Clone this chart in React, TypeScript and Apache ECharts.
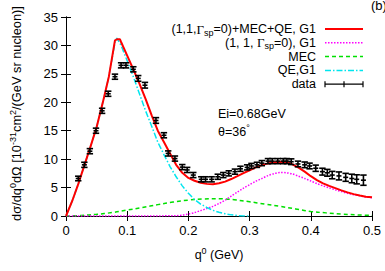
import React, { useEffect, useRef } from "react";
import * as echarts from "echarts";

// ---- data ----
const dataQ = [0.020, 0.030, 0.039, 0.049, 0.059, 0.069, 0.080, 0.090, 0.098, 0.110, 0.118, 0.129, 0.147, 0.160, 0.167, 0.178, 0.190, 0.198, 0.208, 0.221, 0.228, 0.238, 0.248, 0.257, 0.266, 0.276, 0.285, 0.296, 0.303, 0.312, 0.320, 0.330, 0.337, 0.346, 0.355, 0.361, 0.368, 0.379, 0.390, 0.398, 0.408, 0.419, 0.427, 0.435, 0.446, 0.457, 0.467, 0.475, 0.486];
const dataV = [6.6, 9.0, 11.4, 15.0, 18.5, 21.5, 24.5, 26.5, 26.5, 25.8, 24.2, 23.0, 16.8, 14.2, 11.0, 10.1, 8.6, 8.1, 7.2, 6.45, 6.45, 6.45, 6.9, 7.2, 7.5, 7.8, 8.3, 8.55, 8.8, 9.0, 9.3, 9.65, 9.65, 9.65, 9.65, 9.65, 9.55, 9.15, 9.0, 8.8, 8.4, 7.8, 7.6, 7.2, 7.05, 6.8, 6.6, 6.45, 6.3];
const dataErr = [0.4, 0.45, 0.45, 0.45, 0.45, 0.45, 0.45, 0.45, 0.45, 0.45, 0.5, 0.5, 0.5, 0.45, 0.45, 0.45, 0.45, 0.45, 0.45, 0.45, 0.45, 0.45, 0.45, 0.45, 0.45, 0.45, 0.45, 0.45, 0.45, 0.45, 0.45, 0.45, 0.45, 0.45, 0.45, 0.45, 0.5, 0.5, 0.5, 0.5, 0.55, 0.6, 0.6, 0.65, 0.7, 0.7, 0.75, 0.8, 0.9];

const totalQ = [0, 0.01, 0.02, 0.03, 0.04, 0.05, 0.06, 0.07, 0.08, 0.084, 0.088, 0.09, 0.1, 0.11, 0.12, 0.13, 0.14, 0.15, 0.16, 0.17, 0.18, 0.19, 0.2, 0.21, 0.22, 0.23, 0.24, 0.25, 0.26, 0.27, 0.28, 0.29, 0.3, 0.31, 0.32, 0.33, 0.34, 0.35, 0.36, 0.37, 0.38, 0.39, 0.4, 0.41, 0.42, 0.43, 0.44, 0.45, 0.46, 0.47, 0.48, 0.49, 0.5];
const totalV = [0, 2.6, 5.6, 8.9, 12.2, 15.6, 19.9, 24.5, 30.9, 31.1, 31.1, 30.6, 28.2, 25.8, 23.3, 20.6, 17.7, 15.0, 13.0, 11.0, 9.0, 7.6, 6.7, 6.2, 5.85, 5.65, 5.6, 5.75, 6.05, 6.5, 7.0, 7.55, 8.05, 8.55, 8.95, 9.25, 9.45, 9.55, 9.45, 9.1, 8.5, 7.8, 7.0, 6.3, 5.75, 5.3, 4.9, 4.5, 4.15, 3.85, 3.6, 3.4, 3.28];

const qeQ = [0, 0.01, 0.02, 0.03, 0.04, 0.05, 0.06, 0.07, 0.08, 0.083, 0.09, 0.1, 0.11, 0.12, 0.13, 0.14, 0.15, 0.16, 0.17, 0.18, 0.19, 0.2, 0.21, 0.22, 0.23, 0.24, 0.25, 0.26, 0.27, 0.28, 0.29, 0.3];
const qeV = [0, 2.6, 5.6, 8.9, 12.2, 15.6, 19.9, 24.5, 30.5, 31.3, 30.0, 27.3, 24.5, 21.5, 18.5, 15.8, 13.0, 10.8, 8.7, 6.9, 5.3, 4.0, 2.9, 2.1, 1.5, 1.0, 0.65, 0.4, 0.2, 0.08, 0.02, 0];

const mecQ = [0, 0.025, 0.05, 0.075, 0.1, 0.125, 0.15, 0.175, 0.2, 0.225, 0.25, 0.275, 0.3, 0.325, 0.35, 0.375, 0.4, 0.425, 0.45, 0.475, 0.5];
const mecV = [0, 0.1, 0.3, 0.6, 1.05, 1.5, 2.0, 2.45, 2.8, 3.0, 3.05, 2.85, 2.5, 2.1, 1.7, 1.25, 0.8, 0.55, 0.35, 0.2, 0.1];

const resQ = [0, 0.1, 0.18, 0.19, 0.2, 0.21, 0.22, 0.23, 0.24, 0.25, 0.26, 0.27, 0.28, 0.29, 0.3, 0.31, 0.32, 0.33, 0.34, 0.35, 0.36, 0.37, 0.38, 0.39, 0.4, 0.41, 0.42, 0.43, 0.44, 0.45, 0.46, 0.47, 0.48, 0.49, 0.5];
const resV = [0, 0, 0.05, 0.15, 0.35, 0.6, 0.95, 1.3, 1.7, 2.2, 2.8, 3.5, 4.2, 4.9, 5.5, 6.1, 6.6, 7.1, 7.45, 7.65, 7.6, 7.4, 7.0, 6.6, 6.15, 5.7, 5.3, 4.95, 4.6, 4.3, 4.0, 3.75, 3.55, 3.35, 3.2];

const xTicks = [0, 0.1, 0.2, 0.3, 0.4, 0.5];
const yTicks = [0, 5, 10, 15, 20, 25, 30, 35];

const legendLabels = [
  "(1,1,{g|Γ}{sub|sp}=0)+MEC+QE, G1",
  "(1, 1, {g|Γ}{sub|sp}=0), G1",
  "MEC",
  "QE,G1",
  "data",
];

const RED = "#ff0000";
const MAGENTA = "#ff00ff";
const GREEN = "#00e000";
const CYAN = "#00e5ee";

const FONT = "Liberation Sans, Arial, sans-serif";

const zip = (a: number[], b: number[]) => a.map((x, i) => [x, b[i]]);

export default function App() {
  const ref = useRef<HTMLDivElement>(null);
  useEffect(() => {
    if (!ref.current) return;
    const chart = echarts.init(ref.current, undefined, { renderer: "svg" });

    const axisCommon = {
      axisLine: { show: true, lineStyle: { color: "#000", width: 1 } },
      axisTick: { show: true, inside: true, length: 5, lineStyle: { color: "#000" } },
      splitLine: { show: false },
    };

    const legendTop = 29;
    const legendStep = 13.8;
    const lx0 = 325;
    const lx1 = 363;
    const lineStyles: any[] = [
      { stroke: RED, lineWidth: 2 },
      { stroke: MAGENTA, lineWidth: 1.5, lineDash: [1.5, 1.5] },
      { stroke: GREEN, lineWidth: 1.5, lineDash: [4, 3] },
      { stroke: CYAN, lineWidth: 1.5, lineDash: [6, 2, 1.5, 2] },
      { stroke: "#000", lineWidth: 1.2 },
    ];
    const graphics: any[] = [];
    legendLabels.forEach((t, i) => {
      const y = legendTop + i * legendStep;
      graphics.push({
        type: "text",
        x: 316,
        y,
        style: {
          text: t,
          align: "right",
          verticalAlign: "middle",
          fontFamily: FONT,
          fontSize: 12.5,
          fill: "#000",
          rich: {
            g: { fontFamily: "Liberation Serif, serif", fontSize: 13 },
            sub: { fontSize: 9, padding: [7, 0, 0, 0] },
          },
        },
      });
      graphics.push({
        type: "line",
        shape: { x1: lx0, y1: y, x2: lx1, y2: y },
        style: lineStyles[i],
      });
    });
    [lx0, (lx0 + lx1) / 2, lx1].forEach((x) => {
      const y = legendTop + 4 * legendStep;
      graphics.push({
        type: "line",
        shape: { x1: x, y1: y - 3, x2: x, y2: y + 3 },
        style: { stroke: "#000", lineWidth: 1.2 },
      });
    });
    graphics.push({
      type: "text",
      x: 218,
      y: 114,
      style: { text: "Ei=0.68GeV", verticalAlign: "middle", fontFamily: FONT, fontSize: 12.5, fill: "#000" },
    });
    graphics.push({
      type: "text",
      x: 218,
      y: 132,
      style: {
        text: "θ=36{sup|°}",
        verticalAlign: "middle",
        fontFamily: FONT,
        fontSize: 12.5,
        fill: "#000",
        rich: { sup: { fontSize: 9, padding: [0, 0, 8, 0] } },
      },
    });
    graphics.push({
      type: "text",
      x: 371,
      y: -1,
      style: { text: "(b)", fontFamily: FONT, fontSize: 13, fill: "#000" },
    });

    const errData = dataQ.map((q, i) => [q, dataV[i], dataErr[i]]);

    chart.setOption({
      animation: false,
      backgroundColor: "#fff",
      textStyle: { fontFamily: FONT },
      grid: { left: 61, right: 13, top: 17, bottom: 55 },
      xAxis: [
        {
          type: "value",
          min: xTicks[0],
          max: xTicks[xTicks.length - 1],
          interval: 0.1,
          ...axisCommon,
          axisLabel: { color: "#000", fontSize: 13, margin: 8, fontFamily: FONT },
          name: "q{sup|0} (GeV)",
          nameLocation: "middle",
          nameGap: 30,
          nameTextStyle: {
            color: "#000",
            fontSize: 12.5,
            fontFamily: FONT,
            rich: { sup: { fontSize: 9, padding: [0, 0, 8, 0] } },
          },
        },
        {
          type: "value",
          position: "top",
          min: xTicks[0],
          max: xTicks[xTicks.length - 1],
          interval: 0.1,
          ...axisCommon,
          axisLabel: { show: false },
        },
      ],
      yAxis: [
        {
          type: "value",
          min: yTicks[0],
          max: yTicks[yTicks.length - 1],
          interval: 5,
          ...axisCommon,
          axisLabel: { color: "#000", fontSize: 13, margin: 8, fontFamily: FONT },
          name: "dσ/dq{sup|0}dΩ [10{sup|-31}cm{sup|2}/(GeV sr nucleon)]",
          nameLocation: "middle",
          nameGap: 41,
          nameTextStyle: {
            color: "#000",
            fontSize: 12.8,
            fontFamily: FONT,
            padding: [0, 0, 0, 6],
            rich: { sup: { fontSize: 9, padding: [0, 0, 8, 0] } },
          },
        },
        {
          type: "value",
          position: "right",
          min: yTicks[0],
          max: yTicks[yTicks.length - 1],
          interval: 5,
          ...axisCommon,
          axisLabel: { show: false },
        },
      ],
      series: [
        {
          type: "line",
          data: zip(mecQ, mecV),
          showSymbol: false,
          smooth: 0.4,
          lineStyle: { color: GREEN, width: 1.5, type: [4, 3] },
          z: 2,
        },
        {
          type: "line",
          data: zip(resQ, resV),
          showSymbol: false,
          smooth: 0.3,
          lineStyle: { color: MAGENTA, width: 1.5, type: [1.5, 1.5] },
          z: 2,
        },
        {
          type: "line",
          data: zip(qeQ, qeV),
          showSymbol: false,
          lineStyle: { color: CYAN, width: 1.5, type: [6, 2, 1.5, 2] },
          z: 3,
        },
        {
          type: "line",
          data: zip(totalQ, totalV),
          showSymbol: false,
          lineStyle: { color: RED, width: 2 },
          z: 4,
        },
        {
          type: "custom",
          data: errData,
          z: 5,
          renderItem: (params: any, api: any) => {
            const q = api.value(0);
            const v = api.value(1);
            const e = api.value(2);
            const top = api.coord([q, v + e]);
            const bot = api.coord([q, v - e]);
            const mid = api.coord([q, v]);
            const w = 3.2;
            const st = { stroke: "#000", lineWidth: 1.6 };
            return {
              type: "group",
              children: [
                { type: "line", shape: { x1: top[0], y1: top[1], x2: bot[0], y2: bot[1] }, style: st },
                { type: "line", shape: { x1: top[0] - w, y1: top[1], x2: top[0] + w, y2: top[1] }, style: st },
                { type: "line", shape: { x1: bot[0] - w, y1: bot[1], x2: bot[0] + w, y2: bot[1] }, style: st },
                { type: "line", shape: { x1: mid[0] - 2.5, y1: mid[1], x2: mid[0] + 2.5, y2: mid[1] }, style: st },
              ],
            };
          },
        },
      ],
      graphic: graphics,
    });
    return () => chart.dispose();
  }, []);
  return <div ref={ref} style={{ width: 385, height: 271, position: "absolute", left: 0, top: 0 }} />;
}
